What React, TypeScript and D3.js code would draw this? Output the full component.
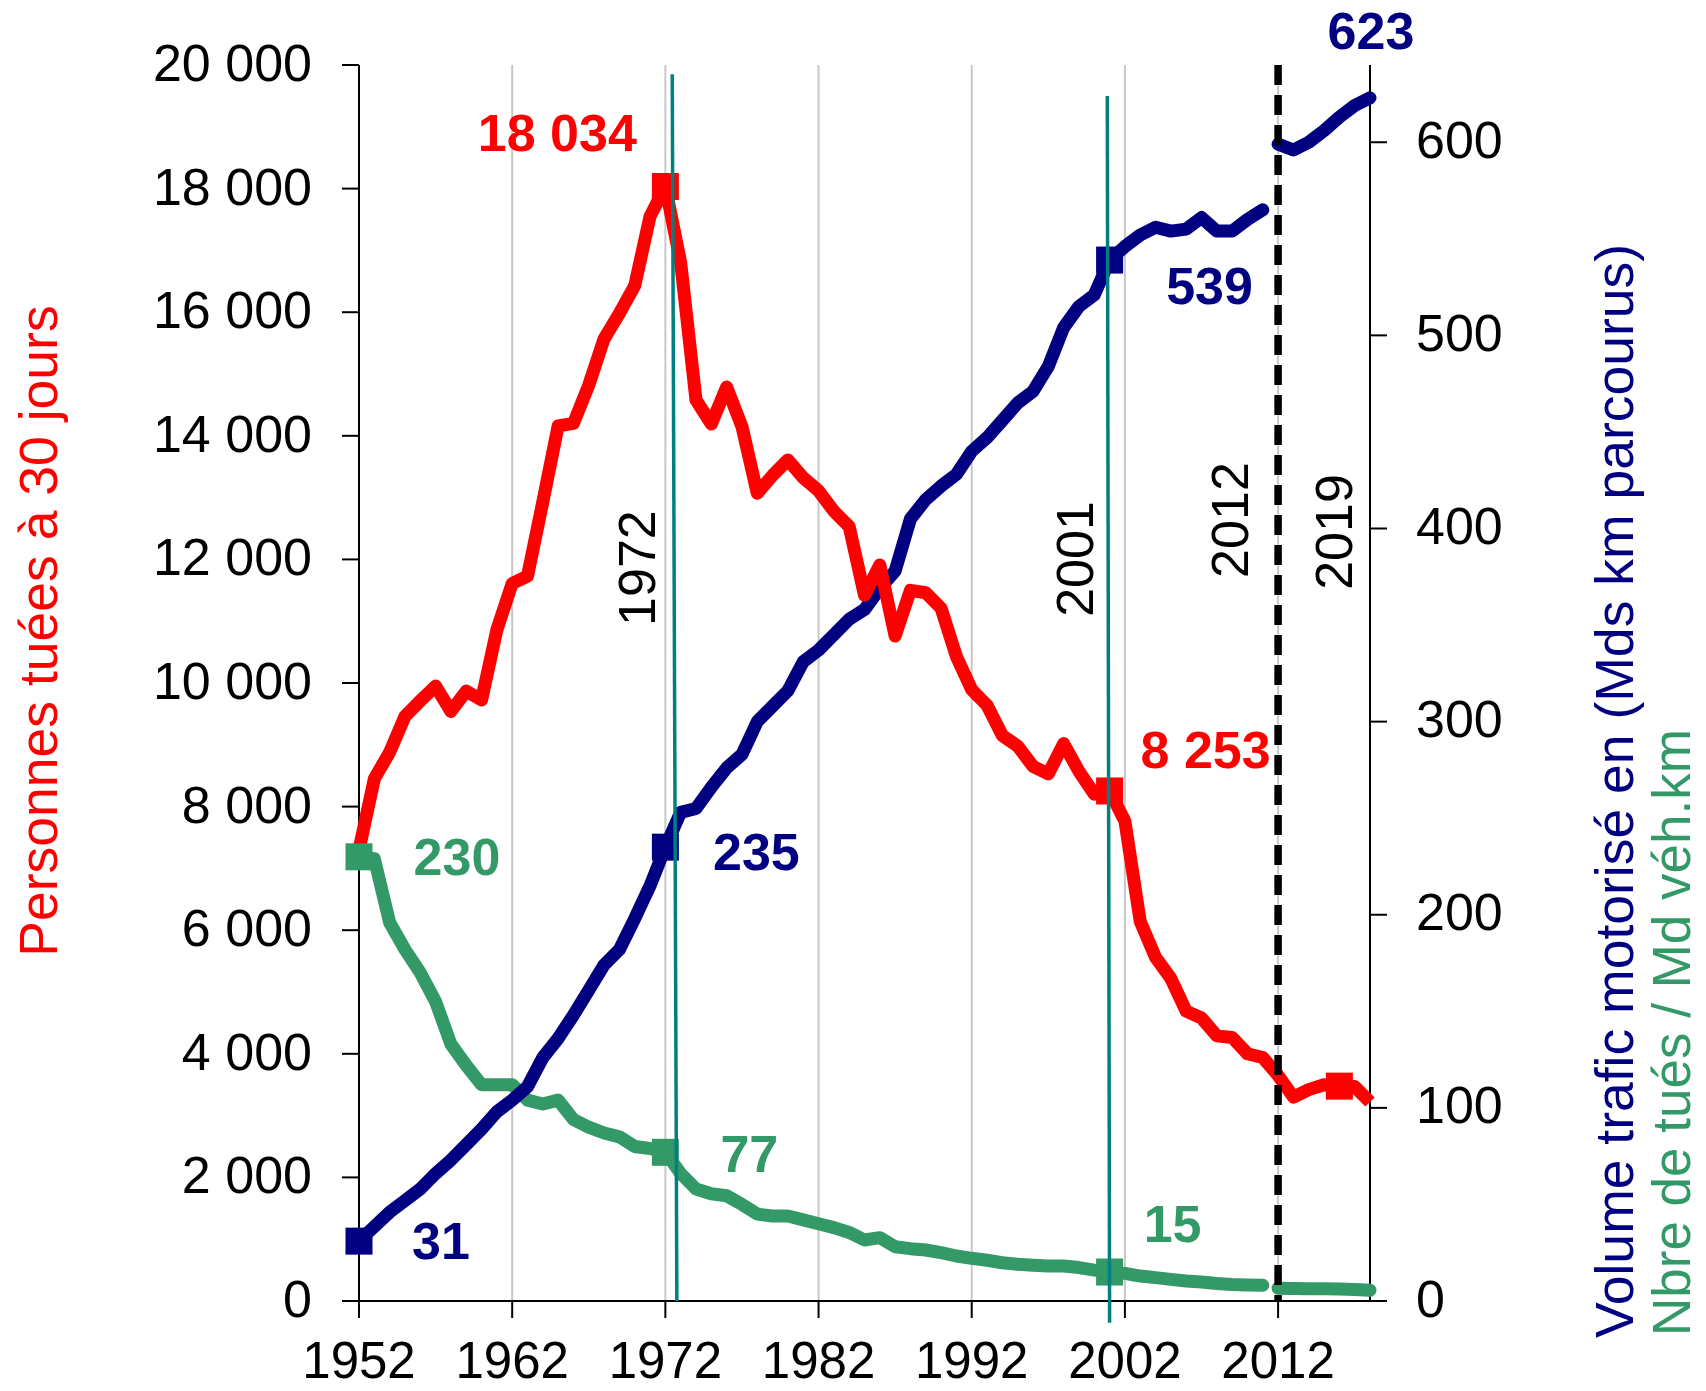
import React from "react";
import * as d3 from "d3";

// ---------- DATA ----------
const years: number[] = d3.range(1952, 2019);

// Personnes tuées à 30 jours (left axis)
const killed: number[] = [
  7300, 8450, 8880, 9460, 9710, 9950, 9540, 9870, 9725, 10860,
  11610, 11730, 12930, 14160, 14200, 14820, 15570, 15980, 16430, 17550,
  18034, 16800, 14580, 14190, 14790, 14150, 13070, 13360, 13610, 13320,
  13110, 12780, 12530, 11420, 11910, 10760, 11500, 11460, 11210, 10430,
  9890, 9640, 9150, 8980, 8650, 8530, 9020, 8570, 8200, 8253,
  7765, 6140, 5560, 5220, 4690, 4580, 4290, 4265, 4000, 3940,
  3650, 3300, 3420, 3500, 3477, 3470, 3220,
];

// Volume trafic motorisé (Mds km parcourus) (right axis)
const traffic: number[] = [
  31, 38.5, 46, 52, 58, 66, 73, 81, 89, 98,
  104, 111, 126, 136, 148, 161, 174, 182, 198, 215,
  235, 253, 255, 266, 276, 283, 300, 308, 316, 331,
  337, 345, 353, 358, 369, 378, 405, 415, 422, 428,
  440, 447, 456, 465, 471, 484, 504, 515, 521, 539,
  546, 552, 556, 554, 555, 561, 554, 554, 560, 565,
  599, 596, 600, 606, 613, 619, 623,
];

// Nbre de tués / Md véh.km (right axis)
const rate: number[] = [
  230, 229, 196, 182, 170, 155, 133, 122, 112, 112,
  112, 104, 102, 104, 94, 90, 87, 85, 80, 79,
  77, 66, 58, 55.5, 54.5, 50, 45, 44, 44, 42,
  40, 38, 35.5, 31.6, 32.8, 28.1, 27.1, 26.4, 25, 23.3,
  22.1, 21.1, 19.8, 19, 18.5, 18.1, 18.1, 17.3, 16, 15,
  14.3, 12.9, 12.1, 11.2, 10.4, 9.8, 9.1, 8.6, 8.3, 8.1,
  6.6, 6.5, 6.4, 6.3, 6.2, 6.0, 5.6,
];

const breakYear = 2012; // series break for traffic and rate

const leftTicks: number[] = [0, 2000, 4000, 6000, 8000, 10000, 12000, 14000, 16000, 18000, 20000];
const rightTicks: number[] = [0, 100, 200, 300, 400, 500, 600];
const xTickYears: number[] = [1952, 1962, 1972, 1982, 1992, 2002, 2012];
const gridYears: number[] = [1962, 1972, 1982, 1992, 2002, 2012];

const killedMarkers: number[] = [1972, 2001, 2016];
const trafficMarkers: number[] = [1952, 1972, 2001];
const rateMarkers: number[] = [1952, 1972, 2001];

// vertical teal reference lines (years, left-axis values)
const refLines = [
  { x0: 1972.45, x1: 1972.75, top: 19850, bottom: 0 },
  { x0: 2000.85, x1: 2001.0, top: 19500, bottom: -350 },
];

// period labels (rotated)
const periodLabels = [
  { text: "1972", year: 1971.3, value: 11860 },
  { text: "2001", year: 1999.9, value: 12006 },
  { text: "2012", year: 2010.05, value: 12637 },
  { text: "2019", year: 2016.82, value: 12443 },
];

// value annotations
const annotations = [
  { text: "18 034", year: 1972, series: "killed", color: "#ff0000", dx: -108, dy: -35 },
  { text: "8 253", year: 2001, series: "killed", color: "#ff0000", dx: 96, dy: -23 },
  { text: "623", year: 2018, series: "traffic", color: "#000080", dx: 1, dy: -49 },
  { text: "539", year: 2001, series: "traffic", color: "#000080", dx: 100, dy: 44 },
  { text: "235", year: 1972, series: "traffic", color: "#000080", dx: 91, dy: 23 },
  { text: "31", year: 1952, series: "traffic", color: "#000080", dx: 82, dy: 18 },
  { text: "230", year: 1952, series: "rate", color: "#339966", dx: 98, dy: 18 },
  { text: "77", year: 1972, series: "rate", color: "#339966", dx: 84, dy: 20 },
  { text: "15", year: 2001, series: "rate", color: "#339966", dx: 63, dy: -30 },
];

// ---------- CHART ----------
const W = 1706;
const H = 1391;
const FONT = "'Liberation Sans', Arial, Helvetica, sans-serif";
const RED = "#ff0000";
const NAVY = "#000080";
const GREEN = "#339966";
const TEAL = "#008080";

const fmt = (v: number) => d3.format(",")(v).replace(/,/g, " ");

export default function App() {
  const x = d3.scaleLinear().domain([1952, 2018]).range([359, 1370]);
  const yL = d3.scaleLinear().domain([0, 20000]).range([1301, 65]);
  const yR = d3.scaleLinear().domain([0, 640]).range([1301, 65]);

  type P = { year: number; v: number };
  const killedPts: P[] = years.map((yr, i) => ({ year: yr, v: killed[i] }));
  const trafficPts: P[] = years.map((yr, i) => ({ year: yr, v: traffic[i] }));
  const ratePts: P[] = years.map((yr, i) => ({ year: yr, v: rate[i] }));

  const lineL = d3.line<P>().x((d) => x(d.year)).y((d) => yL(d.v));
  const lineR = d3.line<P>().x((d) => x(d.year)).y((d) => yR(d.v));

  const split = (pts: P[]) => [
    pts.filter((d) => d.year < breakYear),
    pts.filter((d) => d.year >= breakYear),
  ];

  const valueAt = (series: string, year: number) => {
    const i = years.indexOf(year);
    if (series === "killed") return yL(killed[i]);
    if (series === "traffic") return yR(traffic[i]);
    return yR(rate[i]);
  };

  const MS = 27;
  const lw = 13;

  return (
    <svg
      width={W}
      height={H}
      style={{ position: "absolute", left: 0, top: 0, background: "#fff" }}
      fontFamily={FONT}
    >
      <rect x={0} y={0} width={W} height={H} fill="#fff" />

      {/* gridlines */}
      {gridYears.map((g) => (
        <line key={"g" + g} x1={x(g)} x2={x(g)} y1={yL(20000)} y2={yL(0)} stroke="#c8c8c8" strokeWidth={2} />
      ))}

      {/* axes */}
      <line x1={x(1952)} x2={x(1952)} y1={yL(20000)} y2={yL(0)} stroke="#000" strokeWidth={2} />
      <line x1={x(2018)} x2={x(2018)} y1={yR(640)} y2={yR(0)} stroke="#000" strokeWidth={2} />
      <line x1={x(1952)} x2={x(2018)} y1={yL(0)} y2={yL(0)} stroke="#000" strokeWidth={2} />

      {leftTicks.map((t) => (
        <g key={"lt" + t}>
          <line x1={x(1952) - 17} x2={x(1952)} y1={yL(t)} y2={yL(t)} stroke="#000" strokeWidth={2} />
          <text x={312} y={yL(t) + 16} textAnchor="end" fontSize={52} fill="#000">
            {fmt(t)}
          </text>
        </g>
      ))}
      {rightTicks.map((t) => (
        <g key={"rt" + t}>
          <line x1={x(2018)} x2={x(2018) + 17} y1={yR(t)} y2={yR(t)} stroke="#000" strokeWidth={2} />
          <text x={x(2018) + 46} y={yR(t) + 15.5} textAnchor="start" fontSize={52} fill="#000">
            {fmt(t)}
          </text>
        </g>
      ))}
      {xTickYears.map((t) => (
        <g key={"xt" + t}>
          <line x1={x(t)} x2={x(t)} y1={yL(0)} y2={yL(0) + 17} stroke="#000" strokeWidth={2} />
          <text x={x(t)} y={1378} textAnchor="middle" fontSize={51} fill="#000">
            {t}
          </text>
        </g>
      ))}

      {/* axis titles */}
      <text
        transform={`translate(57, 631) rotate(-90)`}
        textAnchor="middle"
        fontSize={53.5}
        fill={RED}
      >
        Personnes tuées à 30 jours
      </text>
      <text transform={`translate(1633, 1338) rotate(-90)`} textAnchor="start" fontSize={53.5} fill={NAVY}>
        Volume trafic motorisé en (Mds km parcourus)
      </text>
      <text transform={`translate(1690, 1336) rotate(-90)`} textAnchor="start" fontSize={53} fill={GREEN}>
        Nbre de tués / Md véh.km
      </text>

      {/* series */}
      {split(ratePts).map((seg, i) => (
        <path key={"r" + i} d={lineR(seg) || ""} fill="none" stroke={GREEN} strokeWidth={lw} strokeLinejoin="round" strokeLinecap="round" />
      ))}
      {split(trafficPts).map((seg, i) => (
        <path key={"t" + i} d={lineR(seg) || ""} fill="none" stroke={NAVY} strokeWidth={lw} strokeLinejoin="round" strokeLinecap="round" />
      ))}
      <path d={lineL(killedPts) || ""} fill="none" stroke={RED} strokeWidth={lw} strokeLinejoin="round" strokeLinecap="butt" />

      {/* markers */}
      {rateMarkers.map((yr) => (
        <rect key={"rm" + yr} x={x(yr) - MS / 2} y={valueAt("rate", yr) - MS / 2} width={MS} height={MS} fill={GREEN} />
      ))}
      {trafficMarkers.map((yr) => (
        <rect key={"tm" + yr} x={x(yr) - MS / 2} y={valueAt("traffic", yr) - MS / 2} width={MS} height={MS} fill={NAVY} />
      ))}
      {killedMarkers.map((yr) => (
        <rect key={"km" + yr} x={x(yr) - MS / 2} y={valueAt("killed", yr) - MS / 2} width={MS} height={MS} fill={RED} />
      ))}

      {/* teal reference lines */}
      {refLines.map((r, i) => (
        <line key={"ref" + i} x1={x(r.x0)} y1={yL(r.top)} x2={x(r.x1)} y2={yL(r.bottom)} stroke={TEAL} strokeWidth={3.5} />
      ))}

      {/* dashed break line */}
      <line x1={x(breakYear)} x2={x(breakYear)} y1={yL(20000)} y2={yL(0)} stroke="#000" strokeWidth={7.5} strokeDasharray="20 10" />

      {/* period labels */}
      {periodLabels.map((p) => (
        <text
          key={"p" + p.text}
          transform={`translate(${x(p.year)}, ${yL(p.value)}) rotate(-90)`}
          textAnchor="middle"
          fontSize={52}
          fill="#000"
        >
          {p.text}
        </text>
      ))}

      {/* value annotations */}
      {annotations.map((a) => (
        <text
          key={"a" + a.text}
          x={x(a.year) + a.dx}
          y={valueAt(a.series, a.year) + a.dy}
          textAnchor="middle"
          fontSize={52}
          fontWeight="bold"
          fill={a.color}
        >
          {a.text}
        </text>
      ))}
    </svg>
  );
}
